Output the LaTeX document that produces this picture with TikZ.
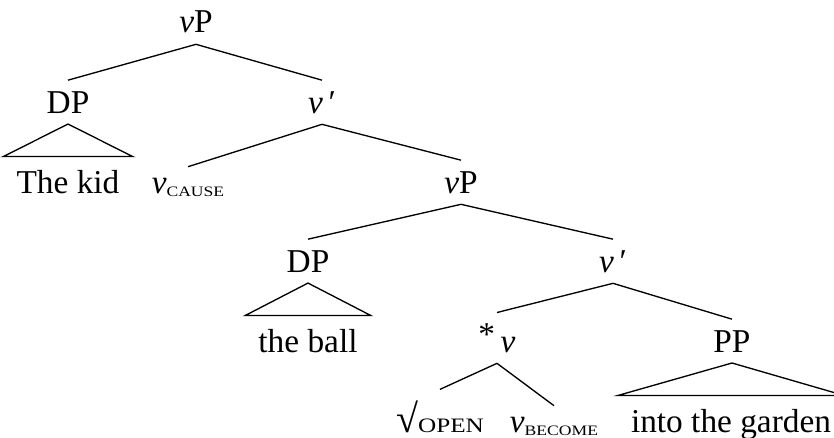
\documentclass[tikz,border=0pt]{standalone}
\usepackage{fontspec}
\setmainfont{Liberation Serif}
\usepackage{graphicx}
\newcommand{\subsc}[1]{\raisebox{-1pt}{\scalebox{1.1}[0.9]{\fontsize{4.8}{5}\selectfont #1}}}
\newcommand{\capsm}[1]{\scalebox{1.08}[0.88]{\fontsize{7}{8}\selectfont #1}}

\begin{document}
\begin{tikzpicture}[x=0.3pt,y=-0.3pt,
    cat/.style={inner sep=0pt,outer sep=3.3pt,anchor=base,font=\fontsize{10}{12}\selectfont},
    roof/.style={inner xsep=4pt,inner ysep=4pt,outer sep=0pt,anchor=base,font=\fontsize{10}{12}\selectfont}]
  \useasboundingbox (0,0) rectangle (834,438);
  % categories, row by row
  \node[cat] (vPa) at (196,33) {\textit{v}P};
  \node[cat] (DPa) at (68,113) {DP};
  \node[cat] (vbara) at (322,113) {\textit{v}\,′};
  \node[roof] (kid) at (68,193) {The kid};
  \node[cat] (vcause) at (188,193) {\textit{v}\subsc{CAUSE}};
  \node[cat] (vPb) at (461,193) {\textit{v}P};
  \node[cat] (DPb) at (308,272) {DP};
  \node[cat] (vbarb) at (613,272) {\textit{v}\,′};
  \node[roof] (ball) at (308,352) {the ball};
  \node[cat] (starv) at (497,352) {\raisebox{2pt}{*}\,\textit{v}};
  \node[cat] (PP) at (732,352) {PP};
  \node[cat] (root) at (440,432) {\scalebox{1.2}{√}\capsm{OPEN}};
  \node[cat] (vbecome) at (554,432) {\textit{v}\subsc{BECOME}};
  \node[roof] (garden) at (731,432) {into the garden};
  % branches
  \draw (vPa.south) -- (DPa.north);
  \draw (vPa.south) -- (vbara.north);
  \draw (vbara.south) -- (vcause.north);
  \draw (vbara.south) -- (vPb.north);
  \draw (vPb.south) -- (DPb.north);
  \draw (vPb.south) -- (vbarb.north);
  \draw (vbarb.south) -- (starv.north);
  \draw (vbarb.south) -- (PP.north);
  \draw (starv.south) -- (root.north);
  \draw (starv.south) -- (vbecome.north);
  % roofs over unanalysed phrases
  \draw (DPa.south) -- (kid.north west) -- (kid.north east) -- cycle;
  \draw (DPb.south) -- (ball.north west) -- (ball.north east) -- cycle;
  \draw (PP.south) -- (garden.north west) -- (garden.north east) -- cycle;
\end{tikzpicture}
\end{document}
